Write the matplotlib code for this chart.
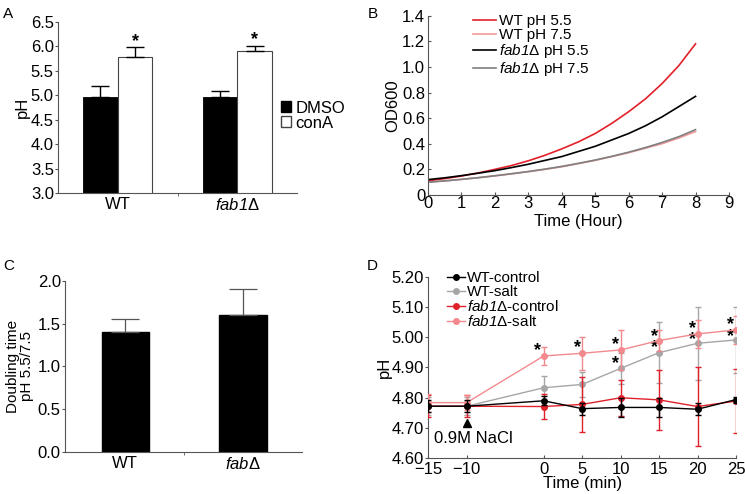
import matplotlib
matplotlib.use('Agg')
import matplotlib.pyplot as plt
from matplotlib.patches import Patch
from matplotlib.lines import Line2D
import numpy as np

plt.rcParams['font.family'] = ['Liberation Sans', 'DejaVu Sans']
plt.rcParams['mathtext.fontset'] = 'custom'
plt.rcParams['mathtext.rm'] = 'Liberation Sans'
plt.rcParams['mathtext.it'] = 'Liberation Sans:italic'
plt.rcParams['mathtext.sf'] = 'Liberation Sans:italic'
plt.rcParams['font.size'] = 12

# ---- data ----
# A: vacuolar pH
a_groups = ['WT', r'$\mathsf{fab1}\Delta$']
a_dmso = [4.96, 4.96]
a_dmso_err = [0.22, 0.13]
a_cona = [5.77, 5.90]
a_cona_err = [0.21, 0.11]

# B: growth curves (OD600 read every half hour)
b_time = [0, 0.5, 1, 1.5, 2, 2.5, 3, 3.5, 4, 4.5, 5, 5.5, 6, 6.5, 7, 7.5, 8]
b_wt55 = [0.11, 0.128, 0.148, 0.172, 0.20, 0.23, 0.267, 0.31, 0.36, 0.415,
          0.48, 0.56, 0.65, 0.75, 0.87, 1.01, 1.18]
b_wt75 = [0.10, 0.11, 0.122, 0.135, 0.149, 0.165, 0.182, 0.20, 0.22, 0.245,
          0.27, 0.30, 0.33, 0.365, 0.40, 0.445, 0.495]
b_fab55 = [0.12, 0.134, 0.151, 0.17, 0.19, 0.214, 0.24, 0.27, 0.30, 0.34,
           0.38, 0.43, 0.48, 0.54, 0.61, 0.69, 0.77]
b_fab75 = [0.10, 0.11, 0.122, 0.135, 0.15, 0.166, 0.183, 0.202, 0.223, 0.247,
           0.273, 0.302, 0.334, 0.37, 0.41, 0.455, 0.51]

# C: doubling time ratio
c_groups = ['WT', r'$\mathsf{fab}\Delta$']
c_vals = [1.40, 1.60]
c_err = [0.15, 0.30]

# D: pH after salt
d_time = [-15, -10, 0, 5, 10, 15, 20, 25]
d_ticks = [-15, -10, 0, 5, 10, 15, 20, 25]
d_wt_ctrl = [4.772, 4.772, 4.790, 4.764, 4.768, 4.768, 4.762, 4.794]
d_wt_ctrl_err = [0.02, 0.02, 0.015, 0.02, 0.03, 0.03, 0.02, 0.01]
d_wt_salt = [4.772, 4.772, 4.833, 4.844, 4.897, 4.949, 4.980, 4.991]
d_wt_salt_err = [0.03, 0.03, 0.04, 0.04, 0.05, 0.10, 0.12, 0.11]
d_fab_ctrl = [4.772, 4.772, 4.771, 4.778, 4.800, 4.793, 4.771, 4.789]
d_fab_ctrl_err = [0.037, 0.037, 0.04, 0.09, 0.06, 0.10, 0.13, 0.105]
d_fab_salt = [4.784, 4.784, 4.938, 4.947, 4.958, 4.989, 5.011, 5.024]
d_fab_salt_err = [0.03, 0.025, 0.03, 0.055, 0.065, 0.035, 0.045, 0.045]
# significance marks: x, y, text (stacked pairs share one text)
d_star_x = [-0.8, 4.35, 9.35, 9.35, 14.35, 19.3, 24.3]
d_star_y = [4.955, 4.965, 4.975, 4.912, 4.983, 5.01, 5.022]
d_star_txt = ['*', '*', '*', '*', '*\n*', '*\n*', '*\n*']

spine_col = '#555555'


def style(ax):
    ax.spines['top'].set_visible(False)
    ax.spines['right'].set_visible(False)
    for s in ['left', 'bottom']:
        ax.spines[s].set_color(spine_col)
        ax.spines[s].set_linewidth(0.8)
    ax.tick_params(colors=spine_col, labelcolor='black', length=2, width=0.8, pad=1)


fig = plt.figure(figsize=(7.45, 4.94), dpi=100)

# ---------- A ----------
axA = fig.add_axes([0.0779, 0.6087, 0.3208, 0.3474])
style(axA)
x = np.arange(len(a_groups))
w = 0.29
ekA = dict(ecolor='black', elinewidth=1.0, capsize=6.5, capthick=1.0)
axA.bar(x - w / 2, a_dmso, w, color='black', edgecolor='black', linewidth=0.6,
        yerr=[[0] * len(x), a_dmso_err], error_kw=ekA)
axA.bar(x + w / 2, a_cona, w, color='white', edgecolor='#444444', linewidth=0.8,
        yerr=[[0] * len(x), a_cona_err], error_kw=ekA)
for i in range(len(x)):
    axA.text(x[i] + w / 2, a_cona[i] + a_cona_err[i] - 0.05, '*', ha='center', va='bottom',
             fontsize=13, fontweight='bold')
axA.set_ylim(3.0, 6.5)
axA.set_yticks(np.arange(3.0, 6.51, 0.5))
axA.set_yticklabels(['%.1f' % v for v in np.arange(3.0, 6.51, 0.5)])
axA.set_xlim(-0.5, 1.5)
axA.set_xticks(x)
axA.set_xticklabels(a_groups)
axA.set_xticks([0.5], minor=True)
axA.tick_params(axis='x', which='major', length=0, pad=3)
axA.tick_params(axis='x', which='minor', length=2, color=spine_col)
axA.set_ylabel('pH', labelpad=1)
axA.legend(handles=[Patch(facecolor='black', edgecolor='black', label='DMSO'),
                    Patch(facecolor='white', edgecolor='#444444', label='conA')],
           loc='center left', bbox_to_anchor=(0.935, 0.453), frameon=False,
           handlelength=0.6, handleheight=0.6, handletextpad=0.25, labelspacing=0.0,
           fontsize=12, borderaxespad=0, borderpad=0)
fig.text(0.004, 0.985, 'A', fontsize=11, va='top')

# ---------- B ----------
axB = fig.add_axes([0.5745, 0.6053, 0.404, 0.363])
style(axB)
axB.plot(b_time, b_wt55, color='#e2202a', lw=1.2, label='WT pH 5.5')
axB.plot(b_time, b_wt75, color='#f39a9c', lw=1.2, label='WT pH 7.5')
axB.plot(b_time, b_fab55, color='black', lw=1.2, label=r'$\mathsf{fab1}\Delta$ pH 5.5')
axB.plot(b_time, b_fab75, color='#7f7f7f', lw=1.2, label=r'$\mathsf{fab1}\Delta$ pH 7.5')
axB.set_xlim(0, 9)
axB.set_ylim(0, 1.4)
axB.set_xticks(range(0, 10))
axB.set_yticks(np.arange(0, 1.41, 0.2))
axB.set_yticklabels(['0'] + ['%.1f' % v for v in np.arange(0.2, 1.41, 0.2)])
axB.tick_params(direction='in', length=2)
axB.tick_params(axis='y', pad=2)
axB.tick_params(axis='x', pad=1)
axB.set_xlabel('Time (Hour)', labelpad=2)
axB.set_ylabel('OD600', labelpad=1)
axB.legend(loc='upper left', bbox_to_anchor=(0.15, 1.01), frameon=False,
           handlelength=1.5, handletextpad=0.2, labelspacing=0.0, fontsize=11,
           borderaxespad=0, borderpad=0)
fig.text(0.494, 0.985, 'B', fontsize=11, va='top')

# ---------- C ----------
axC = fig.add_axes([0.0872, 0.0844, 0.318, 0.3474])
style(axC)
xc = np.arange(len(c_groups))
axC.bar(xc, c_vals, 0.4, color='black', edgecolor='black',
        yerr=[[0] * len(xc), c_err],
        error_kw=dict(ecolor='#555555', elinewidth=0.9, capsize=10, capthick=0.9))
axC.set_ylim(0, 2.0)
axC.set_yticks(np.arange(0, 2.01, 0.5))
axC.set_yticklabels(['%.1f' % v for v in np.arange(0, 2.01, 0.5)])
axC.set_xlim(-0.51, 1.5)
axC.set_xticks(xc)
axC.set_xticklabels(c_groups)
axC.set_xticks([0.5], minor=True)
axC.tick_params(axis='x', which='major', length=0, pad=3)
axC.tick_params(axis='x', which='minor', length=2, color=spine_col)
axC.set_ylabel('Doubling time\npH 5.5/7.5', labelpad=3, linespacing=0.95, fontsize=11)
fig.text(0.004, 0.475, 'C', fontsize=11, va='top')

# ---------- D ----------
axD = fig.add_axes([0.5749, 0.0723, 0.413, 0.3676])
style(axD)
ekw = dict(capsize=2, elinewidth=1.0, capthick=1.0, marker='o', markersize=4, lw=1.0)
series = [
    (d_wt_ctrl, d_wt_ctrl_err, 'black', 'WT-control', 4),
    (d_wt_salt, d_wt_salt_err, '#a6a6a6', 'WT-salt', 2),
    (d_fab_ctrl, d_fab_ctrl_err, '#e0212b', r'$\mathsf{fab1}\Delta$-control', 3),
    (d_fab_salt, d_fab_salt_err, '#f4898d', r'$\mathsf{fab1}\Delta$-salt', 3),
]
handles = []
for vals, errs, col, lab, z in series:
    axD.errorbar(d_time, vals, yerr=errs, color=col, zorder=z, **ekw)
    handles.append(Line2D([], [], color=col, marker='o', markersize=4, lw=1.0, label=lab))
for sx, sy, st in zip(d_star_x, d_star_y, d_star_txt):
    axD.text(sx, sy, st, ha='center', va='center', fontsize=13, fontweight='bold',
             linespacing=0.55)
axD.plot([-10], [4.718], marker='^', color='black', markersize=5.5, ls='none')
axD.text(-14.3, 4.667, '0.9M NaCl', ha='left', va='center', fontsize=12)
axD.set_xlim(-15, 25)
axD.set_ylim(4.60, 5.20)
axD.set_xticks(d_ticks)
axD.set_yticks(np.arange(4.60, 5.201, 0.10))
axD.set_yticklabels(['%.2f' % v for v in np.arange(4.60, 5.201, 0.10)])
axD.tick_params(axis='x', direction='in', length=2, pad=3)
axD.tick_params(axis='y', pad=1)
axD.tick_params(labelsize=12)
axD.set_xlabel('Time (min)', labelpad=-1)
axD.set_ylabel('pH', labelpad=0)
axD.legend(handles=handles, loc='upper left', bbox_to_anchor=(0.06, 1.03), frameon=False,
           handlelength=1.2, handletextpad=0.1, labelspacing=0.0, fontsize=11,
           borderaxespad=0, borderpad=0)
fig.text(0.492, 0.475, 'D', fontsize=11, va='top')

fig.savefig('out.png', dpi=100)
